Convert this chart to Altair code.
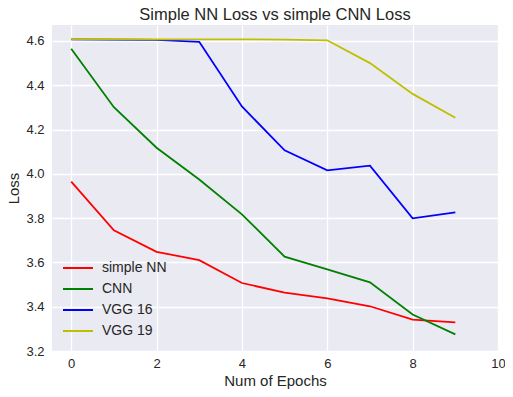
import altair as alt
import pandas as pd

epochs = list(range(10))
simple_nn = [3.965, 3.745, 3.648, 3.610, 3.507, 3.464, 3.438, 3.402, 3.342, 3.329]
cnn = [4.565, 4.301, 4.118, 3.974, 3.817, 3.626, 3.569, 3.510, 3.365, 3.275]
vgg16 = [4.607, 4.606, 4.605, 4.596, 4.304, 4.106, 4.016, 4.037, 3.799, 3.826]
vgg19 = [4.608, 4.608, 4.607, 4.607, 4.607, 4.606, 4.603, 4.500, 4.361, 4.253]

series_names = ["simple NN", "CNN", "VGG 16", "VGG 19"]
series_values = [simple_nn, cnn, vgg16, vgg19]
series_colors = ["#ff0000", "#008000", "#0000ff", "#bfbf00"]

x_ticks = [0, 2, 4, 6, 8, 10]
y_ticks = [3.2, 3.4, 3.6, 3.8, 4.0, 4.2, 4.4, 4.6]

rows = []
for name, vals in zip(series_names, series_values):
    for e, v in zip(epochs, vals):
        rows.append({"epoch": e, "loss": v, "series": name})
df = pd.DataFrame(rows)

FONT = "Liberation Sans"
TXT = "#262626"

chart = alt.Chart(df).mark_line(strokeWidth=1.8, clip=True).encode(
    x=alt.X("epoch:Q", title="Num of Epochs",
            scale=alt.Scale(domain=[-0.45, 10], nice=False, zero=False),
            axis=alt.Axis(values=x_ticks, format="d", labelPadding=6, titlePadding=3,
                          labelFlush=False)),
    y=alt.Y("loss:Q", title="Loss",
            scale=alt.Scale(domain=[3.2, 4.672], nice=False, zero=False),
            axis=alt.Axis(values=y_ticks, format=".1f", labelPadding=8, titlePadding=4,
                          labelFlush=False)),
    color=alt.Color("series:N", sort=series_names,
                    scale=alt.Scale(domain=series_names, range=series_colors),
                    legend=alt.Legend(title=None, orient="none", legendX=19, legendY=236,
                                      symbolType="M-3,0H3", symbolSize=100,
                                      symbolStrokeWidth=2, labelOffset=17,
                                      labelFontSize=14, labelFont=FONT, labelColor=TXT,
                                      rowPadding=7)),
    order=alt.Order("epoch:Q"),
).properties(
    width=446, height=326,
    title=alt.Title("Simple NN Loss vs simple CNN Loss", fontSize=16.5, font=FONT,
                    fontWeight="normal", color=TXT, offset=2, anchor="middle"),
    autosize=alt.AutoSizeParams(type="none"),
    padding={"left": 44, "top": 17, "right": 7, "bottom": 38},
).configure_view(
    fill="#EAEAF2", stroke=None
).configure_axis(
    domain=False, ticks=False, grid=True, gridColor="#ffffff", gridWidth=1.3,
    labelFont=FONT, labelFontSize=13, labelColor=TXT,
    titleFont=FONT, titleFontSize=15, titleColor=TXT, titleFontWeight="normal"
)

chart.save("out.html", embed_options={"renderer": "svg", "actions": False})
